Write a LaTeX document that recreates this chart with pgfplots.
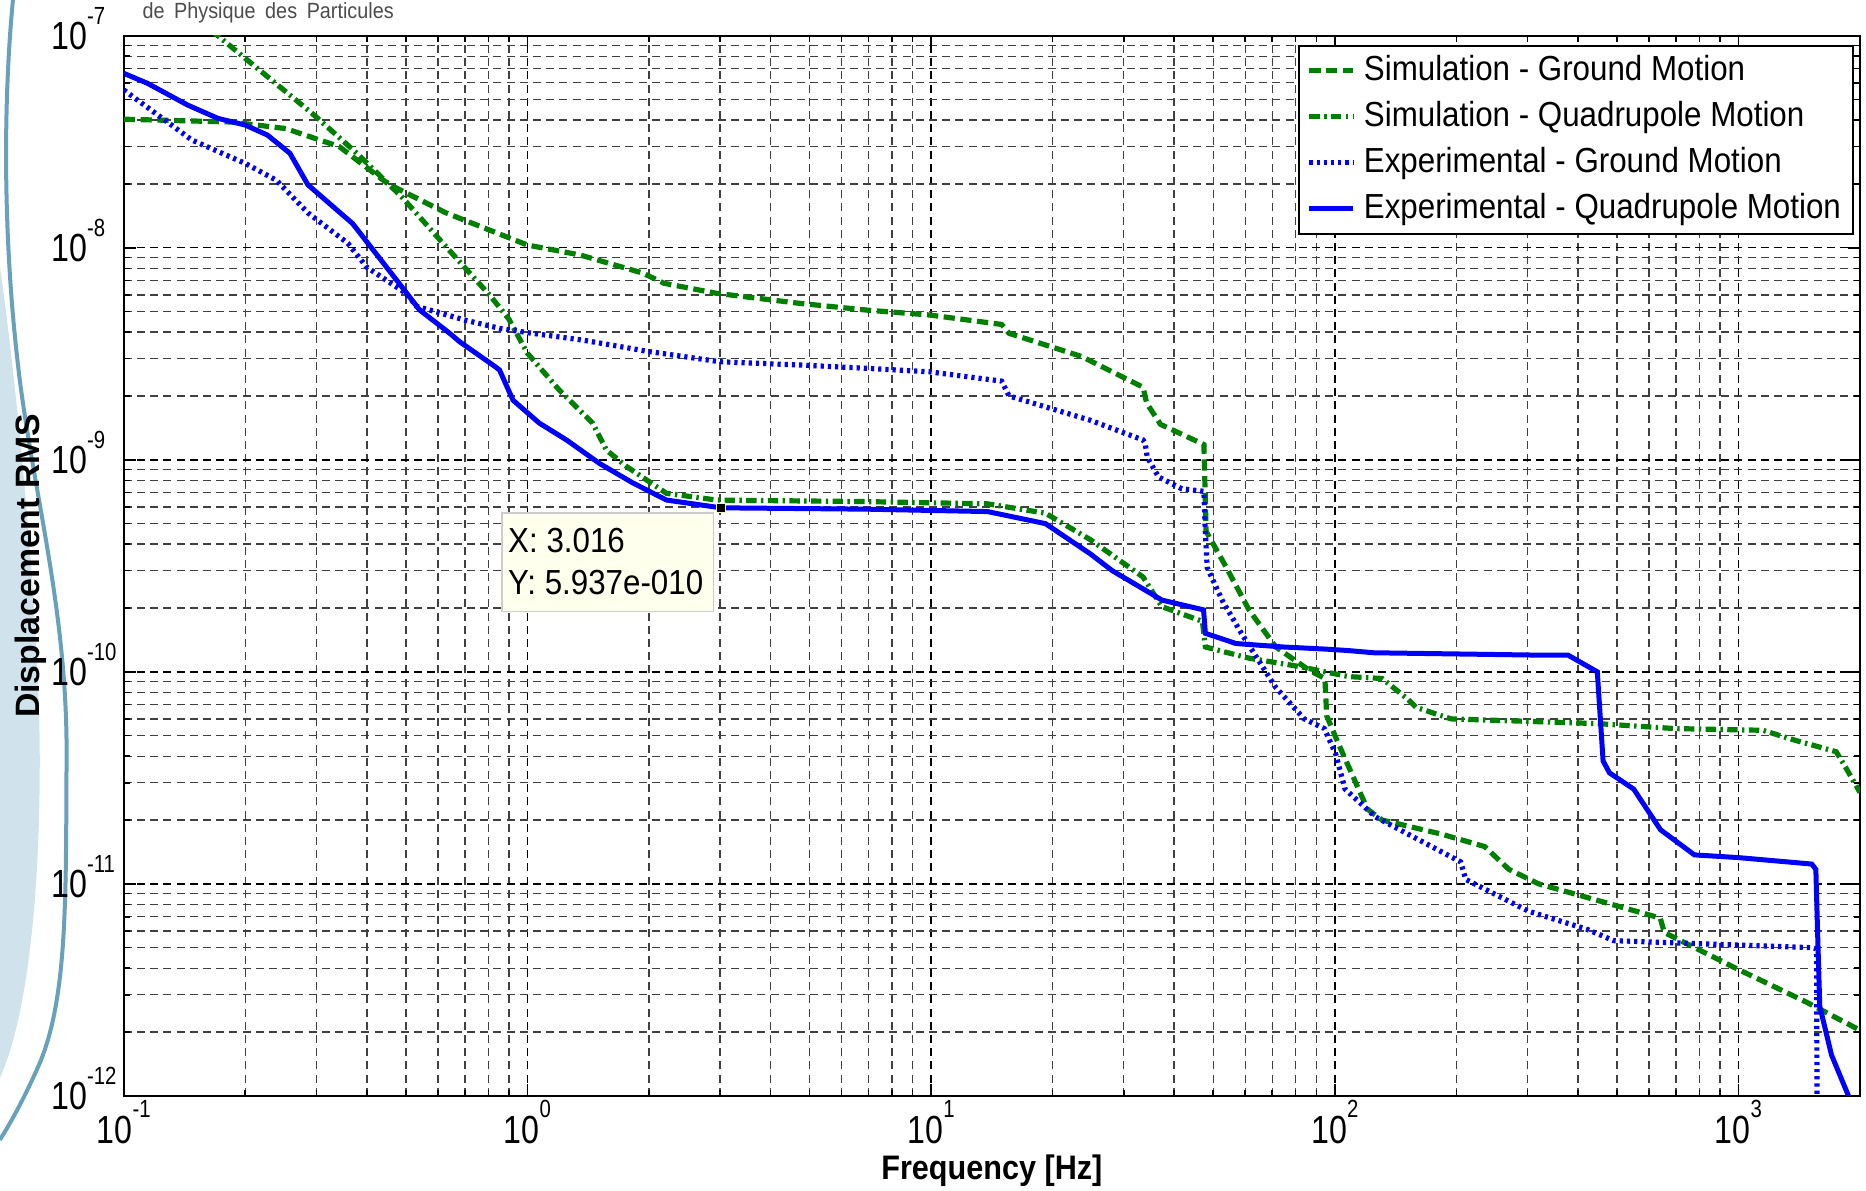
\documentclass[border=0pt]{standalone}
\usepackage{pgfplots}
\pgfplotsset{compat=1.18}
\usepackage{fontspec}
\setmainfont{Liberation Sans}[FakeStretch=0.9]
\newfontfamily\plainfamily{Liberation Sans}
\newfontfamily\tickfamily{Liberation Sans}[FakeStretch=0.82]
\definecolor{mgreen}{RGB}{0,128,0}
\definecolor{mblue}{RGB}{0,0,255}
\definecolor{tipbg}{RGB}{255,255,238}
\definecolor{tipborder}{RGB}{205,205,205}
\definecolor{swoosh}{RGB}{105,160,188}
\definecolor{swooshfill}{RGB}{208,226,236}
\newcommand{\tl}[1]{{\tickfamily\fontsize{9.8}{11}\selectfont 10\raisebox{6.4pt}{\fontsize{6.2}{7}\selectfont #1}}}

\begin{document}
\begin{tikzpicture}
\useasboundingbox (-30.94pt,-23.75pt) rectangle (435.5pt,273.93pt);
% slide background decoration
\fill[swooshfill] (-31pt,207.5pt) .. controls (-27pt,180pt) and (-21pt,120pt) .. (-21pt,84pt)
   .. controls (-21pt,50pt) and (-24pt,20pt) .. (-31pt,4.4pt) -- cycle;
\draw[swoosh, line width=1pt] (-27.7pt,274pt) .. controls (-30pt,250pt) and (-30.5pt,215pt) .. (-26pt,179pt)
   .. controls (-22pt,148pt) and (-14pt,120pt) .. (-14.3pt,84pt)
   .. controls (-14.5pt,50pt) and (-14pt,25pt) .. (-21pt,8.2pt)
   .. controls (-25pt,-1pt) and (-29pt,-8pt) .. (-31pt,-11pt);
\node[anchor=base west, inner sep=0pt, text=black!70, font=\fontsize{5.5}{6}\selectfont] at (4.5pt,269.4pt)
   {de\hspace{2.4pt}Physique\hspace{2.4pt}des\hspace{2.4pt}Particules};

\begin{axis}[
  at={(0pt,0pt)}, anchor=south west,
  scale only axis, width=434pt, height=265pt,
  xmode=log, ymode=log,
  xmin=0.1, xmax=2000, ymin=1e-12, ymax=1e-7,
  xtick={0.1,1,10,100,1000},
  xticklabels={\tl{-1},\tl{0},\tl{1},\tl{2},\tl{3}},
  ytick={1e-12,1e-11,1e-10,1e-9,1e-8,1e-7},
  yticklabels={\tl{-12},\tl{-11},\tl{-10},\tl{-9},\tl{-8},\tl{-7}},
  minor xtick={0.2,0.3,0.4,0.5,0.6,0.7,0.8,0.9,2,3,4,5,6,7,8,9,20,30,40,50,60,70,80,90,200,300,400,500,600,700,800,900},
  minor ytick={2e-12,3e-12,4e-12,5e-12,6e-12,7e-12,8e-12,9e-12,
               2e-11,3e-11,4e-11,5e-11,6e-11,7e-11,8e-11,9e-11,
               2e-10,3e-10,4e-10,5e-10,6e-10,7e-10,8e-10,9e-10,
               2e-9,3e-9,4e-9,5e-9,6e-9,7e-9,8e-9,9e-9,
               2e-8,3e-8,4e-8,5e-8,6e-8,7e-8,8e-8,9e-8},
  grid=both,
  major grid style={black, line width=0.35pt, dash pattern=on 2pt off 1.3pt},
  minor grid style={black!75, line width=0.35pt, dash pattern=on 2pt off 1.3pt},
  tick align=inside, major tick length=3pt, minor tick length=1.5pt,
  tick style={black, line width=0.4pt},
  axis line style={black, line width=0.6pt},
  xticklabel style={anchor=base, inner sep=0pt, yshift=-11.8pt},
  yticklabel style={anchor=base west, inner sep=0pt, xshift=-18.3pt, yshift=-3.5pt},
  xlabel={Frequency [Hz]},
  ylabel={Displacement RMS},
  xlabel style={at={(axis description cs:0.5,-0.0708)}, anchor=center, inner sep=0pt, font=\bfseries\fontsize{8.5}{10}\selectfont},
  ylabel style={at={(axis description cs:-0.0536,0.5)}, anchor=center, inner sep=0pt, font=\plainfamily\bfseries\fontsize{8.45}{10}\selectfont},
  legend cell align=left,
  legend image code/.code={\draw[#1] (0pt,0pt) -- (11pt,0pt);},
  legend style={at={(1,1)}, anchor=north east, xshift=-1.5pt, yshift=-2.25pt,
    draw=black, line width=0.5pt, fill=white, font=\fontsize{8.7}{10}\selectfont,
    inner xsep=2pt, inner ysep=0.5pt, row sep=0pt, column sep=1pt,
    nodes={inner xsep=1pt, inner ysep=1.5pt, text height=6.7pt, text depth=1.8pt}},
]
\addplot[mgreen, line width=1.3pt, dash pattern=on 2.8pt off 1.4pt] coordinates {
(0.1,4.04e-8) (0.185,3.92e-8) (0.252,3.65e-8) (0.342,3.0e-8) (0.452,2.0e-8) (0.629,1.46e-8)
(1.0,1.03e-8) (1.35,9.25e-9) (1.93,7.6e-9) (2.18,6.8e-9) (2.94,6.1e-9) (4.72,5.47e-9)
(6.95,5.08e-9) (9.9,4.82e-9) (14.95,4.35e-9) (15.6,3.95e-9) (23.6,3.07e-9) (33.5,2.2e-9)
(34.2,1.85e-9) (37.0,1.47e-9) (47.4,1.18e-9) (48.0,4.6e-10) (53.7,3.14e-10) (61.3,1.96e-10)
(71.4,1.31e-10) (86.3,1.02e-10) (94.5,9.3e-11) (95.5,6.2e-11) (102,4.6e-11) (120.5,2.25e-11)
(131,2.0e-11) (183,1.72e-11) (235,1.5e-11) (270,1.17e-11) (320,1.0e-11) (640,6.9e-12)
(655,5.9e-12) (972,4.05e-12) (1478,2.76e-12) (2000,2.04e-12)};
\addlegendentry{Simulation - Ground Motion}
\addplot[mgreen, line width=1.3pt, dash pattern=on 2.6pt off 1.1pt on 0.6pt off 1.1pt] coordinates {
(0.15,1.23e-7) (0.171,1.0e-7) (0.293,4.3e-8) (0.378,2.79e-8) (0.488,1.74e-8) (0.629,1.01e-8)
(0.811,5.9e-9) (0.9,4.6e-9) (1.0,3.18e-9) (1.2,2.13e-9) (1.45,1.49e-9) (1.57,1.11e-9)
(1.76,9.3e-10) (2.21,6.95e-10) (2.94,6.46e-10) (6.95,6.35e-10) (13.8,6.2e-10) (19.2,5.6e-10)
(24.8,4.2e-10) (33.5,2.8e-10) (37.3,2.03e-10) (47,1.73e-10) (47.8,1.31e-10) (61.3,1.16e-10)
(81.5,1.06e-10) (108,9.5e-11) (131,9.3e-11) (152,7.4e-11) (159,6.8e-11) (194,6.0e-11)
(447,5.7e-11) (697,5.4e-11) (1150,5.3e-11) (1358,4.8e-11) (1746,4.2e-11) (1850,3.5e-11)
(2000,2.7e-11)};
\addlegendentry{Simulation - Quadrupole Motion}
\addplot[mblue, line width=1.3pt, dash pattern=on 0.8pt off 1pt] coordinates {
(0.1,5.55e-8) (0.12,4.3e-8) (0.1476,3.22e-8) (0.2,2.5e-8) (0.239,2.08e-8) (0.286,1.46e-8)
(0.359,1.05e-8) (0.4,8.1e-9) (0.5,6.1e-9) (0.531,5.3e-9) (0.697,4.57e-9) (0.853,4.17e-9)
(1.0,3.98e-9) (1.37,3.67e-9) (2.0,3.24e-9) (3.0,2.9e-9) (4.72,2.8e-9) (6.95,2.7e-9)
(9.9,2.6e-9) (14.95,2.35e-9) (15.6,2.0e-9) (24.7,1.54e-9) (33.5,1.24e-9) (33.9,1.2e-9)
(34.3,1.03e-9) (36.6,8.3e-10) (41.8,7.3e-10) (47.4,7.1e-10) (47.8,4.5e-10) (48.3,3.1e-10)
(52.7,2.16e-10) (58.7,1.52e-10) (71.2,8.5e-11) (84,6.0e-11) (94.2,5.4e-11) (100.5,4.1e-11)
(106,2.8e-11) (126,2.07e-11) (205,1.27e-11) (211,1.05e-11) (302,7.43e-12) (422,6.1e-12)
(459,5.7e-12) (490,5.4e-12) (1519,5.0e-12) (1555,4.95e-12) (1562,4.6e-12) (1565,9e-13)};
\addlegendentry{Experimental - Ground Motion}
\addplot[mblue, line width=1.25pt] coordinates {
(0.1,6.65e-8) (0.1144,5.97e-8) (0.144,4.71e-8) (0.171,4.08e-8) (0.2,3.79e-8) (0.227,3.4e-8)
(0.258,2.79e-8) (0.286,1.98e-8) (0.369,1.3e-8) (0.488,6.56e-9) (0.54,5.1e-9) (0.642,3.95e-9)
(0.68,3.6e-9) (0.832,2.75e-9) (0.853,2.65e-9) (0.921,1.91e-9) (1.07,1.49e-9) (1.25,1.24e-9)
(1.51,9.6e-10) (1.82,7.8e-10) (2.21,6.46e-10) (3.016,5.937e-10) (6.95,5.85e-10) (13.8,5.7e-10)
(19.2,5.0e-10) (24.8,3.6e-10) (28.1,3.0e-10) (33.9,2.43e-10) (37.3,2.18e-10) (47.3,1.96e-10)
(47.8,1.52e-10) (56.9,1.36e-10) (74.5,1.31e-10) (94.9,1.28e-10) (108,1.26e-10) (125,1.23e-10)
(310,1.2e-10) (378,1.2e-10) (447,1.0e-10) (462,3.8e-11) (479,3.34e-11) (550,2.8e-11)
(641,1.8e-11) (778,1.37e-11) (1000,1.33e-11) (1519,1.24e-11) (1555,1.17e-11) (1570,6e-12)
(1590,2.65e-12) (1700,1.56e-12) (1873,1e-12) (1950,8e-13)};
\addlegendentry{Experimental - Quadrupole Motion}
\addplot[only marks, mark=square*, mark size=1.1pt, forget plot,
  mark options={fill=black, draw={rgb,255:red,245;green,245;blue,190}, line width=0.3pt}]
  coordinates {(3.016,5.937e-10)};
\end{axis}
% data tip
\draw[tipborder, fill=tipbg, line width=0.4pt] (94.5pt,145.7pt) rectangle (147.4pt,121.1pt);
\node[anchor=base west, inner sep=0pt, font=\fontsize{8.7}{10}\selectfont] at (95.9pt,135.7pt) {X: 3.016};
\node[anchor=base west, inner sep=0pt, font=\fontsize{8.7}{10}\selectfont] at (95.9pt,125.2pt) {Y: 5.937e-010};
\end{tikzpicture}
\end{document}
